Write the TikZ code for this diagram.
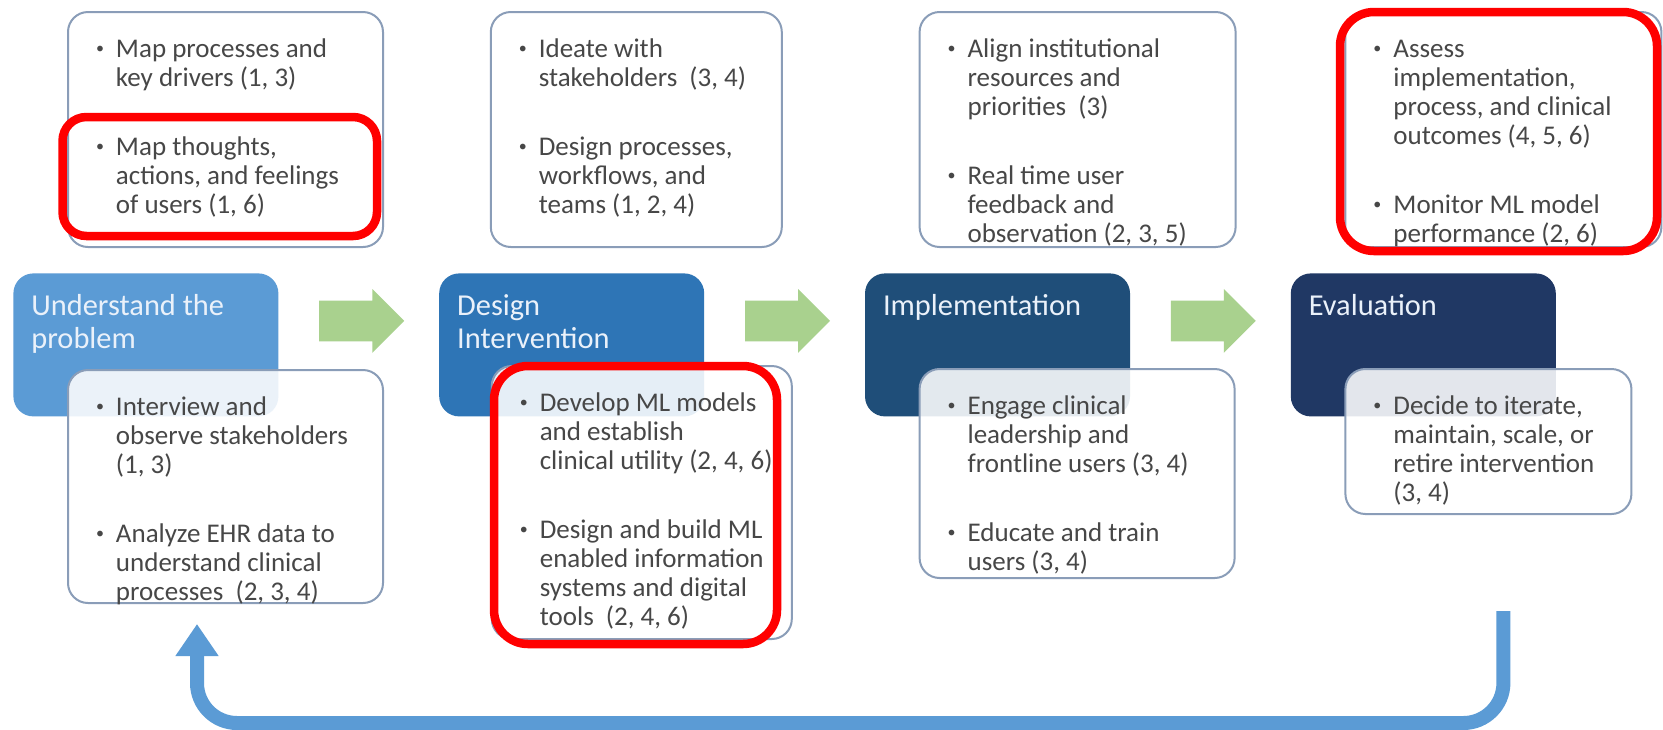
\documentclass[tikz,border=0pt]{standalone}
\usepackage{fontspec}
\setmainfont{Carlito}
\usepackage{tikz}
\usetikzlibrary{positioning,shapes.arrows,arrows.meta}

\definecolor{phaseA}{HTML}{5B9BD5}
\definecolor{phaseB}{HTML}{2E75B6}
\definecolor{phaseC}{HTML}{1F4E79}
\definecolor{phaseD}{HTML}{203864}
\definecolor{titletext}{HTML}{EAF1FA}
\definecolor{boxline}{HTML}{8A9DB8}
\definecolor{bodytext}{HTML}{474747}
\definecolor{stepgreen}{HTML}{A9D18E}
\definecolor{loopblue}{HTML}{5B9BD5}
\definecolor{markred}{HTML}{FF0000}

\newcommand{\bul}[1]{\par\noindent\makebox[10pt][l]{\raisebox{1.6pt}{\fontsize{8pt}{8pt}\selectfont\textbullet}}%
  \begin{tabular}[t]{@{}l@{}}#1\end{tabular}\par}
\newcommand{\bulgap}{\vspace{19pt}}
\newcommand{\panel}[3]{\parbox[c][#2][t]{#1}{\raggedright\leftskip=14pt\fontsize{13.5pt}{14.5pt}\selectfont\vspace*{12.35pt}#3}}
\newcommand{\phasetitle}[1]{\parbox[c][71.5pt][t]{132.5pt}{\raggedright\leftskip=9pt\fontsize{15.2pt}{16.5pt}\selectfont\vspace*{9.45pt}\strut#1}}

\begin{document}
\begin{tikzpicture}[x=0.5pt,y=-0.5pt,
    phase/.style={rounded corners=10pt,inner sep=0pt,text=titletext,anchor=north west},
    topbox/.style={draw=boxline,line width=1pt,fill=white,rounded corners=10pt,inner sep=0pt,text=bodytext},
    lowbox/.style={topbox,fill opacity=0.88,text opacity=1},
    steparrow/.style={single arrow,fill=stepgreen,inner sep=0pt,minimum height=42.5pt,
                      minimum width=31.5pt,single arrow head extend=5.75pt,text height=10pt,text depth=10pt},
    looparrow/.style={draw=loopblue,line width=7pt,rounded corners=20pt,
                      -{Triangle[width=20.5pt,length=16pt]}},
    redmark/.style={draw=markred,line width=4.25pt}]
  \path[use as bounding box,fill=white] (0,0) rectangle (1663,729);

  \node[phase,fill=phaseA] (p1) at (13,273) {\phasetitle{Understand the\\problem}};
  \node[phase,fill=phaseB,right=80pt of p1] (p2) {\phasetitle{Design\\Intervention}};
  \node[phase,fill=phaseC,right=80pt of p2] (p3) {\phasetitle{Implementation}};
  \node[phase,fill=phaseD,right=80pt of p3] (p4) {\phasetitle{Evaluation}};

  \node[steparrow,right=20pt of p1.east,yshift=12pt] (a1) {};
  \node[steparrow,right=20pt of p2.east,yshift=12pt] (a2) {};
  \node[steparrow,right=20pt of p3.east,yshift=12pt] (a3) {};

  \node[topbox,above right=12.5pt and 27pt of p1.north west] (t1) {\panel{157.5pt}{117.5pt}{%
    \bul{Map processes and\\key drivers (1, 3)}\bulgap
    \bul{Map thoughts,\\actions, and feelings\\of users (1, 6)}}};
  \node[topbox,above right=12.5pt and 25.5pt of p2.north west] (t2) {\panel{145.5pt}{117.5pt}{%
    \bul{Ideate with\\stakeholders~ (3, 4)}\bulgap
    \bul{Design processes,\\workflows, and\\teams (1, 2, 4)}}};
  \node[topbox,above right=12.5pt and 27pt of p3.north west] (t3) {\panel{158pt}{117.5pt}{%
    \bul{Align institutional\\resources and\\priorities~ (3)}\bulgap
    \bul{Real time user\\feedback and\\observation (2, 3, 5)}}};
  \node[topbox,above right=12.5pt and 27pt of p4.north west] (t4) {\panel{158pt}{117.5pt}{%
    \bul{Assess\\implementation,\\process, and clinical\\outcomes (4, 5, 6)}\bulgap
    \bul{Monitor ML model\\performance (2, 6)}}};

  \node[lowbox,below right=48pt and 27pt of p1.north west] (b1) {\panel{157.5pt}{116.5pt}{%
    \bul{Interview and\\observe stakeholders\\(1, 3)}\bulgap
    \bul{Analyze EHR data to\\understand clinical\\processes~ (2, 3, 4)}}};
  \node[lowbox,below right=46pt and 26pt of p2.north west] (b2) {\panel{150pt}{136.5pt}{%
    \bul{Develop ML models\\and establish\\clinical utility (2, 4, 6)}\bulgap
    \bul{Design and build ML\\enabled information\\systems and digital\\tools~ (2, 4, 6)}}};
  \node[lowbox,below right=47.5pt and 27pt of p3.north west] (b3) {\panel{157.5pt}{104.5pt}{%
    \bul{Engage clinical\\leadership and\\frontline users (3, 4)}\bulgap
    \bul{Educate and train\\users (3, 4)}}};
  \node[lowbox,below right=47.5pt and 27pt of p4.north west] (b4) {\panel{143pt}{72.5pt}{%
    \bul{Decide to iterate,\\maintain, scale, or\\retire intervention\\(3, 4)}}};

  \coordinate[below=48pt of b4.south,xshift=7.5pt] (loopstart);
  \coordinate[below=10pt of b1.south,xshift=-14.25pt] (looptip);
  \draw[looparrow] (loopstart) -- ++(0,112) -| (looptip);

  \draw[redmark,rounded corners=12pt] (62.5,117) rectangle (377,236);
  \draw[redmark,rounded corners=17pt] (1340,12) rectangle (1657,251);
  \draw[redmark,rounded corners=17pt] (494,366) rectangle (777,644);
\end{tikzpicture}
\end{document}
